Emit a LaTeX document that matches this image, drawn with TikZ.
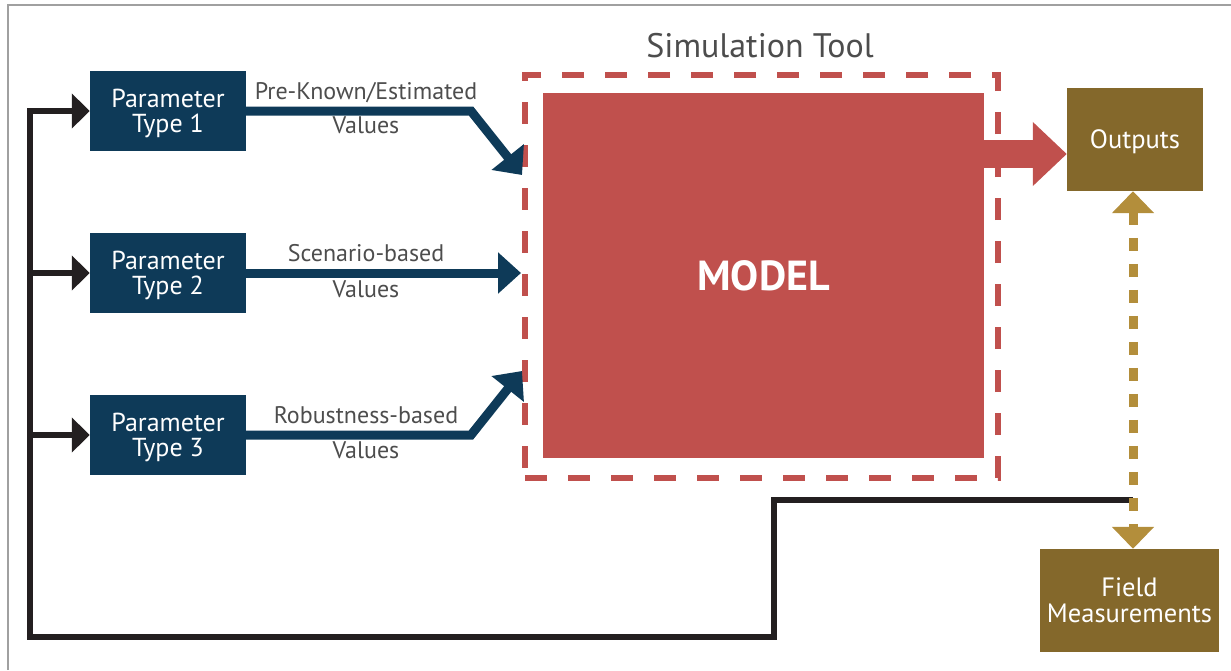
\documentclass[tikz,border=0pt]{standalone}
\usepackage{fontspec}
\setmainfont{PT Sans}
\usetikzlibrary{arrows.meta,calc}
\definecolor{navy}{HTML}{0E3A58}
\definecolor{modelred}{HTML}{C0504D}
\definecolor{bronze}{HTML}{84682B}
\definecolor{gold}{HTML}{B38E3B}
\definecolor{ink}{HTML}{231F20}
\definecolor{labelgray}{HTML}{4D4D4D}
\definecolor{framegray}{HTML}{A0A0A0}

\begin{document}
\begin{tikzpicture}[x=1pt,y=-1pt,
  parambox/.style={fill=navy, text=white, minimum width=156pt, minimum height=80pt,
    inner sep=0pt, align=center, text depth=0pt, font=\fontsize{26}{25.5}\selectfont},
  goldbox/.style={fill=bronze, text=white, inner sep=0pt, align=center, text depth=0pt,
    font=\fontsize{26.5}{26}\selectfont},
  flowlabel/.style={text=labelgray, anchor=base, inner sep=0pt,
    font=\fontsize{24}{25}\selectfont},
  flow/.style={navy, line width=9pt, -{Triangle[length=23pt,width=40pt]}},
  feedback/.style={ink, line width=6pt, -{Triangle[length=18pt,width=34pt]}},
  measure/.style={gold, line width=9pt, dash pattern=on 13pt off 13pt,
    {Triangle[length=22pt,width=41pt]}-{Triangle[length=22pt,width=41pt]}},
]
\useasboundingbox (0,0) rectangle (1231,670);

% outer frame (top and left edges only)
\draw[framegray, line width=2pt] (8,670) -- (8,5) -- (1231,5);

% parameter sources
\node[parambox] (p1) at (168,111) {Parameter\\Type 1};
\node[parambox] (p2) at (168,273) {Parameter\\Type 2};
\node[parambox] (p3) at (168,435) {Parameter\\Type 3};

% simulation tool with the model inside
\node[draw=modelred, line width=6.5pt, dash pattern=on 22pt off 21pt,
  minimum width=473pt, minimum height=403pt, inner sep=0pt] (tool) at (761.5,276.5) {};
\node[text=labelgray, anchor=base, inner sep=0pt, font=\fontsize{34}{36}\selectfont]
  (tooltitle) at (760,57) {Simulation Tool};
\node[fill=modelred, text=white, minimum width=441pt, minimum height=365pt, inner sep=0pt,
  text depth=0pt, font=\fontsize{42}{44}\selectfont\bfseries] (model) at (763.5,275.5) {MODEL};

% results and measurements
\node[goldbox, minimum width=136pt, minimum height=103pt] (out) at (1135,139.5) {Outputs};
\node[goldbox, minimum width=179pt, minimum height=103pt] (field) at (1129.5,600.5) {Field\\Measurements};

% helper points
\coordinate (in1) at (522,175);
\coordinate (in2) at (521,273);
\coordinate (in3) at (522,371);
\coordinate (ra) at (0,154);
\coordinate (fb) at (1133,500);
\coordinate (bus) at (30,637);

% parameter flows into the tool
\draw[flow] (p1.east) -- (471,111) -- (in1);
\draw[flow] (p2.east) -- (in2);
\draw[flow] (p3.east) -- (471,435) -- (in3);
\node[flowlabel] (l1) at (366,99) {Pre-Known/Estimated};
\node[flowlabel] (v1) at (366,133) {Values};
\node[flowlabel] (l2) at (366,261) {Scenario-based};
\node[flowlabel] (v2) at (366,297) {Values};
\node[flowlabel] (l3) at (366,423) {Robustness-based};
\node[flowlabel] (v3) at (366,458) {Values};

% model output
\draw[modelred, line width=28pt, -{Triangle[length=34pt,width=62pt]}]
  (model.east |- ra) -- (out.west |- ra);

% feedback loop back to the parameters
\draw[feedback] (fb) -- (774,500) -- (774,637) -- (bus) -- (p1.west -| bus) -- (p1.west);
\draw[feedback] (p2.west -| bus) -- (p2.west);
\draw[feedback] (p3.west -| bus) -- (p3.west);

% comparison between outputs and field data
\draw[measure] (out.south -| fb) -- (field.north -| fb);
\end{tikzpicture}
\end{document}
